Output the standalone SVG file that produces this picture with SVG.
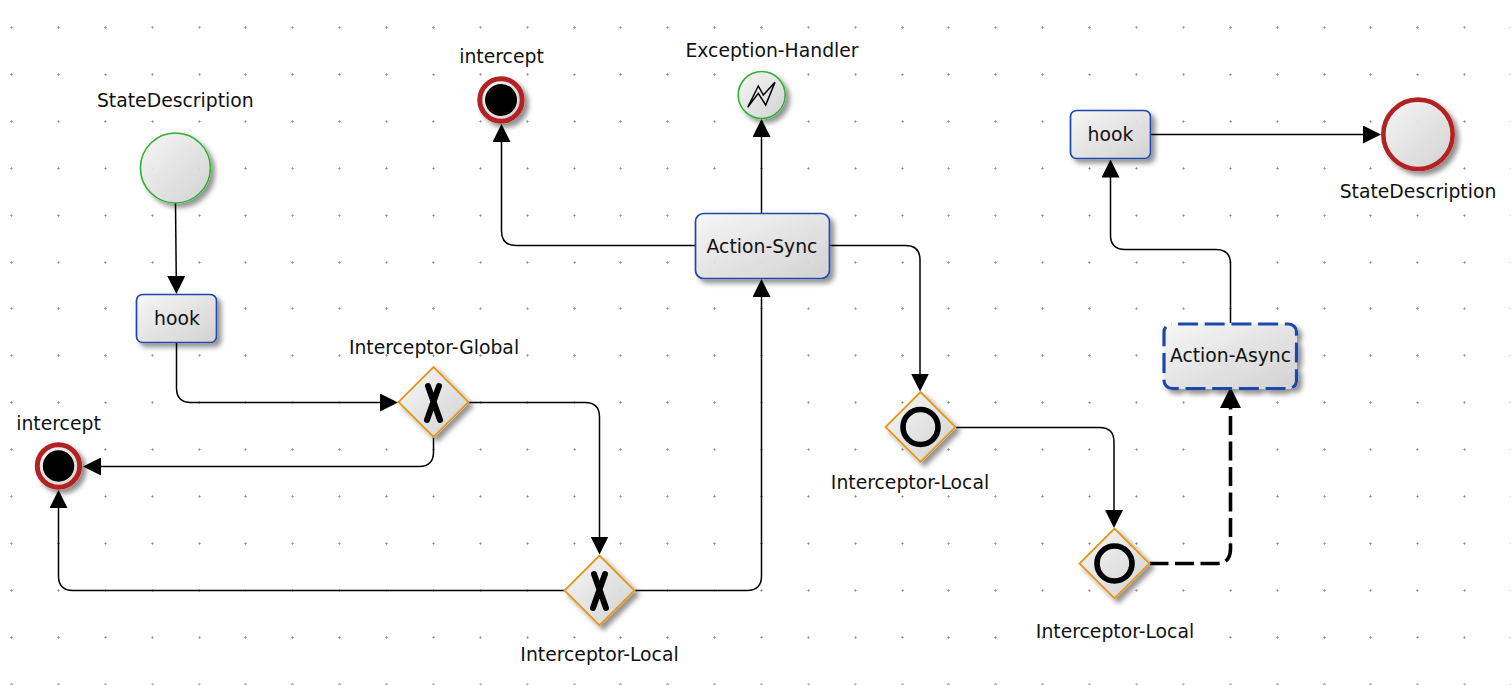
<svg xmlns="http://www.w3.org/2000/svg" xmlns:xlink="http://www.w3.org/1999/xlink" width="1511" height="685" viewBox="0 0 1511 685">
<style>
text{font-family:"DejaVu Sans",sans-serif;font-size:18.8px;fill:#111;text-anchor:middle}
.c{fill:none;stroke:#000;stroke-width:1.5;marker-end:url(#arrow)}
.d{fill:none;stroke:#000;stroke-width:3.6;stroke-dasharray:19 6.5;marker-end:url(#arrowB)}
.task{fill:url(#g);stroke:#1c46ab;stroke-width:1.7;filter:url(#sh)}
.gate{fill:url(#g);stroke:#e6951a;stroke-width:1.8;filter:url(#sh)}
.green{fill:url(#g);stroke:#2eb134;stroke-width:1.6;filter:url(#sh)}
.red{fill:url(#g);stroke:#b22222;stroke-width:4.6;filter:url(#sh)}
.x{fill:none;stroke:#000;stroke-width:6;stroke-linecap:round}
.ring{fill:none;stroke:#000;stroke-width:5.6}
</style>
<defs>
<linearGradient id="g" x1="0" y1="0" x2="1" y2="1"><stop offset="0" stop-color="#f6f6f6" stop-opacity=".93"/><stop offset="1" stop-color="#cfcfcf" stop-opacity=".93"/></linearGradient>
<filter id="sh" x="-30%" y="-30%" width="170%" height="170%"><feGaussianBlur in="SourceAlpha" stdDeviation="2.4" result="b"/><feOffset in="b" dx="3.500" dy="3.500" result="o"/><feFlood flood-color="#000" flood-opacity=".45"/><feComposite in2="o" operator="in" result="s"/><feComposite in="s" in2="SourceAlpha" operator="out" result="t"/><feMerge><feMergeNode in="t"/><feMergeNode in="SourceGraphic"/></feMerge></filter>
<marker id="arrow" markerUnits="userSpaceOnUse" markerWidth="18" markerHeight="18" viewBox="0 0 18 18" refX="15" refY="9" orient="auto"><path d="M0 0L18 9L0 18z"/></marker>
<marker id="arrowB" markerUnits="userSpaceOnUse" markerWidth="21" markerHeight="21" viewBox="0 0 21 21" refX="15" refY="10.5" orient="auto"><path d="M0 0L21 10.5L0 21z"/></marker>
<marker id="dot" markerUnits="userSpaceOnUse" markerWidth="5" markerHeight="5" viewBox="-2.5 -2.5 5 5" refX="0" refY="0"><path d="M-1.5 0H1.5M0 -1.5V1.5" stroke="#888" stroke-opacity=".65" stroke-width="1" fill="none"/></marker>
<path id="row" fill="none" stroke="none" marker-start="url(#dot)" marker-mid="url(#dot)" marker-end="url(#dot)" d="M11.5 .5L58.5 .5L105.5 .5L152.5 .5L199.5 .5L245.5 .5L292.5 .5L339.5 .5L386.5 .5L433.5 .5L480.5 .5L527.5 .5L574.5 .5L620.5 .5L667.5 .5L714.5 .5L761.5 .5L808.5 .5L855.5 .5L902.5 .5L948.5 .5L995.5 .5L1042.5 .5L1089.5 .5L1136.5 .5L1183.5 .5L1230.5 .5L1277.5 .5L1324.5 .5L1370.5 .5L1417.5 .5L1464.5 .5L1511.5 .5"/>
</defs>
<rect width="1511" height="685" fill="#fff"/>
<g id="grid">
<use xlink:href="#row" y="27"/><use xlink:href="#row" y="74"/><use xlink:href="#row" y="121"/><use xlink:href="#row" y="168"/><use xlink:href="#row" y="215"/><use xlink:href="#row" y="262"/><use xlink:href="#row" y="308"/><use xlink:href="#row" y="355"/><use xlink:href="#row" y="402"/><use xlink:href="#row" y="449"/><use xlink:href="#row" y="496"/><use xlink:href="#row" y="543"/><use xlink:href="#row" y="590"/><use xlink:href="#row" y="637"/><use xlink:href="#row" y="684"/>
</g>
<g id="connectors">
<path class="c" d="M175.5 203L176.4 291"/>
<path class="c" d="M176.5 343V388Q176.5 402.5 191 402.5H395"/>
<path class="c" d="M468 402.5H585Q599.5 402.5 599.5 417V551.5"/>
<path class="c" d="M433.5 437V452Q433.5 466.5 419 466.5H86"/>
<path class="c" d="M565 590.5H73Q58.5 590.5 58.5 576V493"/>
<path class="c" d="M635 590.5H747Q761.5 590.5 761.5 576V282"/>
<path class="c" d="M761.5 213V122"/>
<path class="c" d="M695 245.5H516Q501.5 245.5 501.5 231V127"/>
<path class="c" d="M829 245.5H905.5Q920 245.5 920 260V388.5"/>
<path class="c" d="M956 427.5H1099.5Q1114 427.5 1114 442V525"/>
<path class="d" d="M1149.5 563.5H1216Q1230.5 563.5 1230.5 549V393"/>
<path class="c" d="M1230.5 323V264Q1230.5 249.5 1216 249.5H1125Q1110.5 249.5 1110.5 235V162.5"/>
<path class="c" d="M1151 134.500H1378"/>
</g>
<g id="start"><circle class="green" cx="175.4" cy="168" r="35"/><text x="175.3" y="107">StateDescription</text></g>
<g id="hook1"><rect class="task" x="136.5" y="294.5" width="80" height="48" rx="6"/><text x="177" y="325">hook</text></g>
<g id="global"><path class="gate" d="M433.500 367L468.500 402L433.500 437L398.500 402Z"/><path class="x" d="M428 386L440 420M439 386L427 420"/><text x="434" y="354">Interceptor-Global</text></g>
<g id="interceptLeft"><circle class="red" cx="58.5" cy="466" r="21.200" style="stroke-width:5"/><circle cx="58.500" cy="466" r="15.700"/><text x="58.500" y="430">intercept</text></g>
<g id="localA"><path class="gate" d="M599.500 555.500L634.500 590.500L599.500 625.500L564.500 590.500Z"/><path class="x" d="M594 574L606 608M605 574L593 608"/><text x="599.500" y="661">Interceptor-Local</text></g>
<g id="actionSync"><rect class="task" x="695.500" y="213.500" width="134" height="65" rx="8"/><text x="762" y="253">Action-Sync</text></g>
<g id="interceptTop"><circle class="red" cx="501" cy="100" r="21.200" style="stroke-width:5"/><circle cx="501" cy="100" r="16"/><text x="501.500" y="63">intercept</text></g>
<g id="exception"><circle class="green" cx="761.700" cy="95" r="23.500"/><path d="M747.700 107.300L758.300 86L763.300 95L775 82.300L765.700 105L758.300 93.300Z" fill="none" stroke="#000" stroke-width="1.500"/><text x="772" y="57">Exception-Handler</text></g>
<g id="localB"><path class="gate" d="M920.500 392L955.500 427L920.500 462L885.500 427Z"/><circle class="ring" cx="920.500" cy="427" r="17.500"/><text x="910" y="489">Interceptor-Local</text></g>
<g id="localC"><path class="gate" d="M1114.500 528.500L1149.500 563.500L1114.500 598.500L1079.500 563.500Z"/><circle class="ring" cx="1114.500" cy="563.500" r="17.500"/><text x="1115" y="638">Interceptor-Local</text></g>
<g id="actionAsync"><rect class="task" x="1164" y="324" width="132.500" height="64.500" rx="8" style="stroke-width:3.2;stroke-dasharray:20 6.7;stroke-dashoffset:-6"/><text x="1230.500" y="362">Action-Async</text></g>
<g id="hook2"><rect class="task" x="1070.500" y="110.500" width="80" height="48" rx="6"/><text x="1110.500" y="141">hook</text></g>
<g id="end"><circle class="red" cx="1418" cy="134.300" r="34.700"/><text x="1418" y="198">StateDescription</text></g>
</svg>
